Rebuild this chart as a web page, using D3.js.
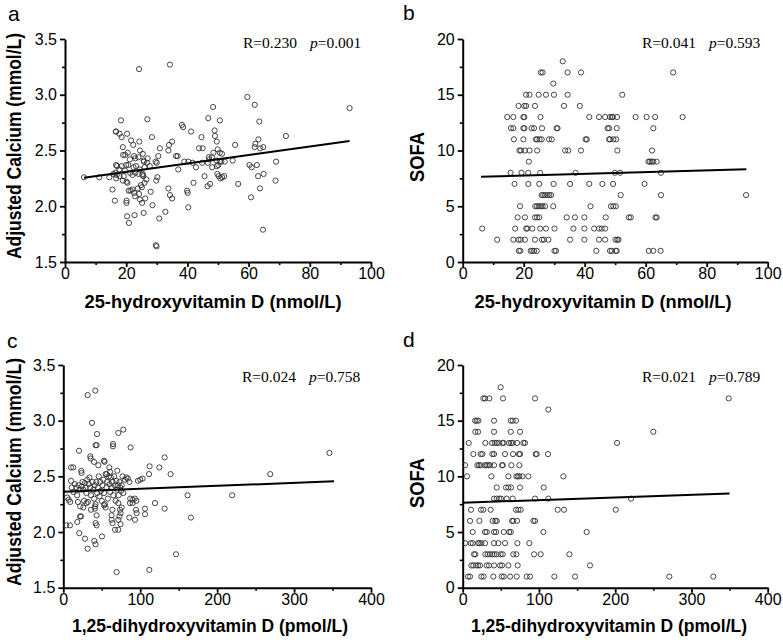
<!DOCTYPE html>
<html><head><meta charset="utf-8">
<script src="https://cdn.jsdelivr.net/npm/d3@7"></script>
<style>body{margin:0;background:#fff}</style></head>
<body>
<svg id="chart" width="783" height="642"></svg>
<script>
// ---------------- DATA ----------------
// Panel a: 25-hydroxyvitamin D (nmol/L) vs adjusted calcium (mmol/L)
const pointsA = [
 [6.2,2.26],[11.2,2.26],[14.5,2.26],[15.5,2.15],[16.3,2.05],[16.7,2.67],[16.7,2.37],[16.9,2.28],
 [24.2,3.23],[34.3,3.27],[59.6,2.98],[62,2.91],[48.4,2.89],[93,2.88],[18.3,2.77],[26.9,2.78],
 [46.8,2.79],[50.6,2.77],[63.5,2.76],[38.2,2.73],[38.6,2.71],[16.6,2.67],[41.2,2.67],[48.9,2.68],
 [72.2,2.63],[17.8,2.65],[20.3,2.65],[18.5,2.62],[28.4,2.62],[44.6,2.62],[49,2.63],[63.2,2.60],
 [21.6,2.59],[24.3,2.58],[35,2.58],[49.6,2.58],[55.6,2.55],[62.2,2.56],[34,2.55],[22.3,2.55],
 [18.9,2.53],[63.8,2.52],[64.8,2.53],[31,2.52],[43.8,2.52],[45,2.52],[62,2.53],[24.5,2.50],
 [33.8,2.50],[49.9,2.51],[50.6,2.48],[51.3,2.47],[20.5,2.48],[25.4,2.47],[19,2.46],[19.7,2.46],
 [22.6,2.45],[30.5,2.45],[36.3,2.45],[36.8,2.45],[24,2.44],[27,2.43],[47,2.44],[48,2.44],
 [48.5,2.48],[23,2.43],[21.2,2.42],[25.7,2.41],[25.8,2.40],[29.6,2.40],[30,2.39],[26.8,2.39],
 [39,2.40],[40.3,2.40],[41.7,2.39],[44.8,2.39],[46.7,2.39],[47.2,2.42],[49.5,2.41],[52.2,2.40],
 [54.8,2.41],[50.6,2.40],[51.1,2.40],[20,2.37],[17,2.36],[18.5,2.36],[20.7,2.37],[23.2,2.36],
 [22.4,2.35],[24.5,2.33],[26,2.35],[27.7,2.36],[42.8,2.35],[48.1,2.35],[49.6,2.36],[50.1,2.37],
 [60.3,2.37],[61,2.35],[62.7,2.37],[69,2.40],[37,2.33],[17.8,2.33],[21.3,2.30],[19.6,2.32],
 [16.5,2.30],[15.8,2.29],[17.8,2.27],[22.1,2.28],[23,2.30],[24,2.29],[25.3,2.28],[25.4,2.29],
 [25.6,2.27],[19.2,2.27],[16.7,2.25],[18.9,2.23],[20.1,2.22],[20.4,2.21],[26.6,2.24],[29.8,2.23],
 [30.2,2.26],[45.6,2.27],[50.2,2.27],[50.8,2.25],[51.4,2.26],[52,2.27],[49.8,2.29],[63.1,2.27],
 [64.9,2.29],[68.8,2.23],[42,2.21],[47.4,2.20],[46.6,2.18],[56.6,2.20],[24.8,2.19],[25.1,2.17],
 [26,2.21],[23.8,2.16],[21.4,2.14],[20.8,2.14],[22,2.15],[33.8,2.16],[39.9,2.14],[63.7,2.16],
 [22.6,2.12],[24.2,2.11],[28,2.13],[34.3,2.10],[40.1,2.12],[22.9,2.09],[26.2,2.07],[35,2.07],
 [20.1,2.05],[24.5,2.06],[20.1,2.03],[25.2,2.03],[28.6,2.01],[60.8,2.08],[40.3,1.99],[25.7,1.94],
 [32.8,1.95],[20.3,1.91],[22.7,1.92],[30.8,1.89],[20.9,1.85],[64.7,1.79],[29.7,1.65],[29.9,1.64]
];
const fitA = [[6.2,2.255],[93,2.585]];
const statsA = ["R=0.230", "p", "=0.001"];

// Panel b: 25-hydroxyvitamin D (nmol/L) vs SOFA
const pointsB = [
 [32.8,18],
 [25.6,17],[26.2,17],[34.4,17],[38.8,17],[69,17],
 [29.7,16],
 [20.8,15],[21.9,15],[24.9,15],[27.3,15],[29.9,15],[34.4,15],[52.3,15],
 [18.3,14],[20.2,14],[20.8,14],[23.7,14],[33.2,14],[38.4,14],
 [14.6,13],[16.6,13],[19.9,13],[20.2,13],[25.5,13],[41.5,13],[44.7,13],[46.7,13],[48.3,13],[48.9,13],[49.2,13],[50.6,13],[56.7,13],[60.3,13],[63.1,13],[72.1,13],
 [15.8,12],[16.6,12],[19.9,12],[20.2,12],[22.6,12],[23.4,12],[26,12],[30.8,12],[31.1,12],[47.5,12],[48,12],[50.5,12],[62.5,12],
 [16.8,11],[19.9,11],[24,11],[24.4,11],[25.2,11],[25.9,11],[28.3,11],[29.2,11],[40.3,11],[40.7,11],[48,11],[48.3,11],[49.4,11],[50.3,11],
 [18.6,10],[19.1,10],[20.4,10],[21.9,10],[24.4,10],[33.6,10],[34.6,10],[38.8,10],[50.7,10],[62.1,10],
 [21.7,9],[60.9,9],[61.4,9],[62,9],[62.5,9],[63.6,9],
 [15.7,8],[19.3,8],[21.5,8],[25.4,8],[37,8],[49.9,8],[51.6,8],[65,8],
 [17,7],[21.5,7],[25.1,7],[29.8,7],[35.2,7],[41.5,7],[45.8,7],[49.3,7],[59.6,7],
 [25.9,6],[26.4,6],[27,6],[27.8,6],[28.4,6],[29,6],[51.8,6],[65,6],[92.9,6],
 [18.8,5],[23.8,5],[24.4,5],[25,5],[25.7,5],[26.2,5],[27,5],[29.7,5],[41.9,5],[48.6,5],[49.4,5],[50.2,5],
 [18,4],[20.4,4],[23.7,4],[24.4,4],[25.1,4],[34.1,4],[36.8,4],[39.9,4],[46.9,4],[54.5,4],[55.1,4],[63.2,4],[63.6,4],
 [6.4,3],[17.2,3],[20.8,3],[21.2,3],[22.8,3],[25.4,3],[27.3,3],[30.1,3],[36.3,3],[39.9,3],[43.1,3],[44.7,3],[45.6,3],[46.7,3],
 [11.3,2],[16.6,2],[18.3,2],[19,2],[20.4,2],[23.7,2],[26,2],[26.6,2],[28.1,2],[35.2,2],[39.9,2],[44.7,2],[46.7,2],[50.1,2],[50.7,2],[51.1,2],
 [18.4,1],[18.9,1],[22.3,1],[22.8,1],[23.4,1],[24.3,1],[30.1,1],[30.6,1],[43.8,1],[48.3,1],[48.9,1],[50.2,1],[50.5,1],[61,1],[62.5,1],[64.9,1]
];
const fitB = [[6,7.65],[93,8.32]];
const statsB = ["R=0.041", "p", "=0.593"];

// Panel c: 1,25-dihydroxyvitamin D (pmol/L) vs adjusted calcium (mmol/L)
const pointsC = [
 [10,2.58],[13,2.58],[23.4,2.55],[23.8,2.53],[20.4,2.73],[35.1,2.68],[35.5,2.66],[39.9,2.63],
 [45.5,2.60],[52.9,2.64],[53.7,2.63],[59.8,2.58],[60.7,2.54],[56.3,2.52],[70.2,2.55],[42,2.78],
 [43.3,2.78],[64.6,2.79],[64.6,2.77],[87.5,2.76],[71.5,2.89],[78,2.92],[43.8,2.88],[37.3,2.98],
 [31.6,3.23],[41.6,3.27],
 [5,2.31],[7,2.29],[9,2.27],[10,2.46],[11,2.40],[13,2.36],[15,2.43],[17,2.40],[18,2.33],[19,2.27],
 [20,2.42],[21,2.38],[22,2.23],[24,2.41],[25,2.45],[26,2.38],[27,2.28],[28,2.44],[29,2.40],[30,2.35],
 [31,2.47],[32,2.27],[33,2.43],[34,2.49],[35,2.40],[36,2.33],[38,2.45],[39,2.38],[40,2.30],[41,2.42],
 [42,2.25],[43,2.45],[44,2.35],[45,2.40],[46,2.50],[47,2.32],[48,2.45],[49,2.37],[50,2.28],[51,2.42],
 [52,2.47],[53,2.35],[54,2.25],[55,2.52],[56,2.40],[57,2.45],[58,2.30],[59,2.50],[60,2.43],[61,2.36],
 [62,2.49],[63,2.40],[64,2.45],[65,2.33],[66,2.50],[67,2.42],[68,2.28],[69,2.46],[70,2.38],[71,2.42],
 [72,2.33],[73,2.45],[74,2.40],[75,2.37],[76,2.42],[77,2.50],[78,2.35],[80,2.47],[82,2.49],[84,2.48],
 [86,2.45],[97,2.46],[100,2.47],[103,2.48],[87,2.30],[90,2.29],[93,2.30],[95,2.28],
 [3.9,2.06],[8.7,2.06],[18.2,2.09],[21.7,2.14],[23,2.14],[20.8,1.99],[28.2,1.94],[31.6,1.85],
 [40.3,1.92],[42,1.89],[50.3,1.96],[42,2.08],[43.3,2.06],[43.3,2.15],[41.2,2.21],[41.2,2.23],
 [62.8,2.15],[62.8,2.11],[64,2.08],[67.2,2.02],[71.5,2.02],[74.5,2.07],[71.5,2.11],[73,2.14],
 [74.5,2.17],[73.7,2.20],[71.5,2.26],[63.7,2.20],[75.8,2.22],[94.5,2.20],[95.3,2.17],[93.2,2.11],
 [85.8,2.13],[86.7,2.26],[90.1,2.26],[53,2.24],[55,2.22],[30,2.26],[26,2.22],[36,2.20],
 [106.2,2.21],[106.2,2.16],[112.2,2.59],[111.4,2.52],[124.8,2.58],[131.7,2.67],[139.5,2.52],
 [119.2,2.26],[131.7,2.21],[161.6,2.33],[166,2.13],[146.5,1.80],[111.8,1.66],[69.3,1.64],
 [219.5,2.33],[269,2.52],[346,2.71]
];
const fitC = [[0,2.362],[352,2.455]];
const statsC = ["R=0.024", "p", "=0.758"];

// Panel d: 1,25-dihydroxyvitamin D (pmol/L) vs SOFA
const pointsD = [
 [49.8,18],
 [27.1,17],[29.3,17],[35,17],[52.9,17],[94.9,17],[348.9,17],
 [112.3,16],
 [16.2,15],[18.4,15],[20.5,15],[41.1,15],[63,15],[65.6,15],[69.9,15],
 [16.6,14],[20.1,14],[41.1,14],[63,14],[75.2,14],[250,14],
 [7.9,13],[29.7,13],[38.5,13],[42,13],[44.6,13],[46.8,13],[52,13],[53.8,13],[60.8,13],[63.4,13],[65.6,13],[71.3,13],[79.6,13],[81.7,13],[202.4,13],
 [14,12],[23.6,12],[25.8,12],[38.9,12],[41.1,12],[55.5,12],[66,12],[73.9,12],[75.2,12],[95.7,12],[97,12],[111.9,12],
 [3.1,11],[19.2,11],[21.4,11],[23.6,11],[29.3,11],[31.5,11],[33.7,11],[35.8,11],[41.1,11],[51.6,11],[52.5,11],[63.8,11],[74.3,11],
 [5.7,10],[37.6,10],[59.9,10],[70.4,10],[72.1,10],[74.3,10],[78.3,10],[86.1,10],[132,10],
 [44.6,9],[56.8,9],[59.9,9],[63.4,9],[75.2,9],[106.2,9],
 [41.1,8],[44.6,8],[48.1,8],[50.3,8],[57.7,8],[65.6,8],[94.9,8],[112.3,8],[220.8,8],
 [10.9,7],[24,7],[27.1,7],[36.7,7],[69.9,7],[73,7],[76.1,7],[124.6,7],[132.9,7],[200.7,7],
 [9.6,6],[21.9,6],[39.3,6],[42.8,6],[44.6,6],[64.7,6],[66.4,6],[71.3,6],[92.7,6],[94.9,6],
 [13.1,5],[29.3,5],[31.5,5],[41.1,5],[43.7,5],[53.8,5],[60.8,5],[63,5],[105.8,5],[162.6,5],
 [3.1,4],[10.5,4],[13.1,4],[20.1,4],[21.9,4],[24.5,4],[29.3,4],[41.1,4],[46.8,4],[55.5,4],[71.7,4],[87.4,4],
 [14.9,3],[16.6,3],[29.7,3],[32.8,3],[35.8,3],[38.9,3],[41.5,3],[44.6,3],[49.8,3],[52.5,3],[66.4,3],[70.4,3],[93.6,3],[102.3,3],[139.9,3],
 [11.4,2],[14,2],[17.5,2],[20.1,2],[22.7,2],[31.5,2],[34.5,2],[41.1,2],[49,2],[51.6,2],[59.9,2],[72.1,2],[167,2],
 [7,1],[9.6,1],[24.5,1],[27.5,1],[40.2,1],[51.1,1],[53.8,1],[62.1,1],[70.8,1],[83.9,1],[88.3,1],[120.2,1],[147.3,1],[271,1],[328.7,1]
];
const fitD = [[0,7.63],[350,8.47]];
const statsD = ["R=0.021", "p", "=0.789"];

// Axis ticks and labels
const ticks25 = [0,20,40,60,80,100];
const minor25 = [10,30,50,70,90];
const ticks125 = [0,100,200,300,400];
const minor125 = [50,150,250,350];
const ticksCa = [1.5,2.0,2.5,3.0,3.5];
const minorCa = [1.75,2.25,2.75,3.25];
const ticksSofa = [0,5,10,15,20];
const minorSofa = [2.5,7.5,12.5,17.5];
const title25 = "25-hydroxyvitamin D (nmol/L)";
const title125 = "1,25-dihydroxyvitamin D (pmol/L)";
const titleCa = "Adjusted Calcium (mmol/L)";
const titleSofa = "SOFA";

// ---------------- LAYOUT ----------------
const panels = [
 {letter:"a", pts:pointsA, fit:fitA, stats:statsA, xT:ticks25, xM:minor25, yT:ticksCa, yM:minorCa,
  xt:title25, yt:titleCa, yFmt:d3.format(".1f"),
  L:65, R:371, T:39, B:262, lx:8, ly:21, sx:243, sy:48, xtx:213, xty:308, xtl:257, ytx:21, yty:146, ytl:226},
 {letter:"b", pts:pointsB, fit:fitB, stats:statsB, xT:ticks25, xM:minor25, yT:ticksSofa, yM:minorSofa,
  xt:title25, yt:titleSofa, yFmt:d3.format("d"),
  L:462.7, R:767.7, T:39, B:262, lx:403, ly:20, sx:642, sy:48, xtx:603, xty:308, xtl:257, ytx:424, yty:157, ytl:50},
 {letter:"c", pts:pointsC, fit:fitC, stats:statsC, xT:ticks125, xM:minor125, yT:ticksCa, yM:minorCa,
  xt:title125, yt:titleCa, yFmt:d3.format(".1f"),
  L:63.3, R:371, T:365, B:587.7, lx:7, ly:348, sx:242, sy:382, xtx:210, xty:632, xtl:276, ytx:21, yty:472, ytl:228},
 {letter:"d", pts:pointsD, fit:fitD, stats:statsD, xT:ticks125, xM:minor125, yT:ticksSofa, yM:minorSofa,
  xt:title125, yt:titleSofa, yFmt:d3.format("d"),
  L:462.7, R:767.7, T:365, B:587.7, lx:403, ly:347, sx:642, sy:382, xtx:609, xty:632, xtl:276, ytx:424, yty:483, ytl:50}
];

const svg = d3.select("#chart");
const SANS = "'Liberation Sans', Arial, Helvetica, sans-serif";
const SERIF = "'Liberation Serif', 'Times New Roman', serif";

panels.forEach(p => {
  const x = d3.scaleLinear().domain(d3.extent(p.xT)).range([p.L, p.R]);
  const y = d3.scaleLinear().domain(d3.extent(p.yT)).range([p.B, p.T]);
  const g = svg.append("g");

  // minor ticks
  g.append("g").attr("transform", `translate(0,${p.B})`)
    .call(d3.axisBottom(x).tickValues(p.xM).tickSize(3).tickFormat(""))
    .call(a => a.select(".domain").remove())
    .selectAll("line").attr("stroke","#000").attr("stroke-width",1.6);
  g.append("g").attr("transform", `translate(${p.L},0)`)
    .call(d3.axisLeft(y).tickValues(p.yM).tickSize(3).tickFormat(""))
    .call(a => a.select(".domain").remove())
    .selectAll("line").attr("stroke","#000").attr("stroke-width",1.6);

  // major axes
  const xa = g.append("g").attr("transform", `translate(0,${p.B})`)
    .call(d3.axisBottom(x).tickValues(p.xT).tickSize(5).tickSizeOuter(0).tickPadding(4));
  const ya = g.append("g").attr("transform", `translate(${p.L},0)`)
    .call(d3.axisLeft(y).tickValues(p.yT).tickFormat(p.yFmt).tickSize(5).tickSizeOuter(0).tickPadding(4));
  [xa, ya].forEach(a => {
    a.select(".domain").attr("stroke","#000").attr("stroke-width",2);
    a.selectAll(".tick line").attr("stroke","#000").attr("stroke-width",1.8);
    a.selectAll(".tick text").attr("fill","#000").style("font-family",SANS).style("font-size","16px");
  });
  xa.selectAll(".tick text").attr("y", 6);
  ya.selectAll(".tick text").attr("x", -8);

  // points
  g.append("g").selectAll("circle").data(p.pts).join("circle")
    .attr("cx", d => x(d[0])).attr("cy", d => y(d[1])).attr("r", 2.6)
    .attr("fill","none").attr("stroke","#333").attr("stroke-width",0.9);

  // regression line
  g.append("path").datum(p.fit)
    .attr("d", d3.line().x(d => x(d[0])).y(d => y(d[1])))
    .attr("stroke","#000").attr("stroke-width",2).attr("fill","none");

  // stats text
  const t = g.append("text").attr("x", p.sx).attr("y", p.sy)
    .style("font-family", SERIF).style("font-size","15.5px").attr("fill","#000");
  t.append("tspan").text(p.stats[0]);
  t.append("tspan").attr("dx", 13).style("font-style","italic").text(p.stats[1]);
  t.append("tspan").text(p.stats[2]);

  // titles
  g.append("text").attr("x", p.xtx).attr("y", p.xty).attr("text-anchor","middle")
    .attr("textLength", p.xtl).attr("lengthAdjust","spacingAndGlyphs")
    .style("font-family",SANS).style("font-weight","bold").style("font-size","19px").text(p.xt);
  g.append("text").attr("transform", `translate(${p.ytx},${p.yty}) rotate(-90)`).attr("text-anchor","middle")
    .attr("textLength", p.ytl).attr("lengthAdjust","spacingAndGlyphs")
    .style("font-family",SANS).style("font-weight","bold").style("font-size","20px").text(p.yt);

  // panel letter
  g.append("text").attr("x", p.lx).attr("y", p.ly)
    .style("font-family",SANS).style("font-size","21px").text(p.letter);
});
</script>
</body></html>
